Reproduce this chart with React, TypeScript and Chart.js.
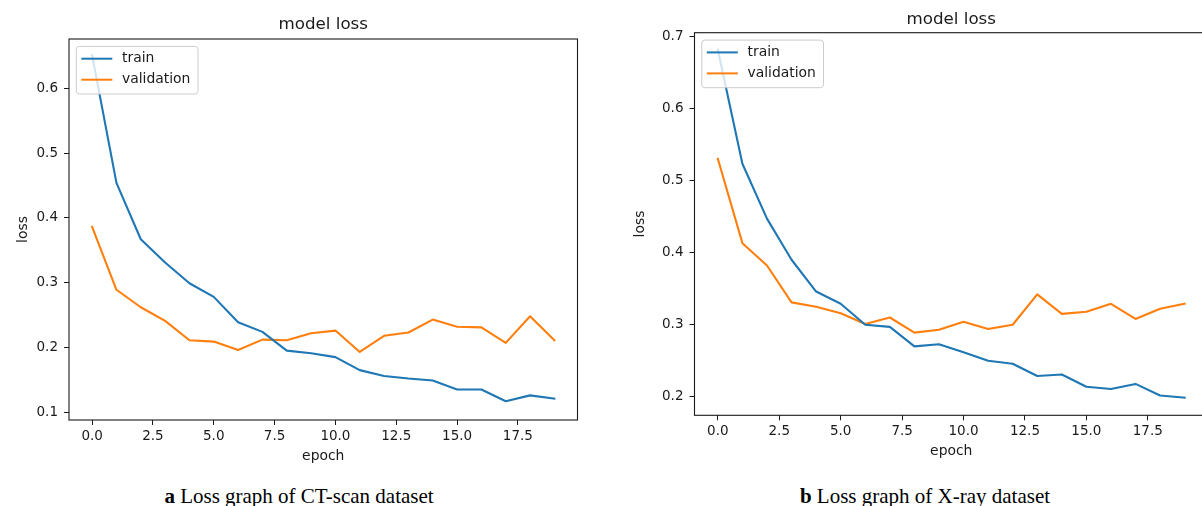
import React, { useEffect, useRef } from "react";
import { Chart, registerables } from "chart.js";

Chart.register(...registerables);

// ---- data -------------------------------------------------------------
const EPOCHS = [0, 1, 2, 3, 4, 5, 6, 7, 8, 9, 10, 11, 12, 13, 14, 15, 16, 17, 18, 19];
const X_TICKS = [0, 2.5, 5, 7.5, 10, 12.5, 15, 17.5];
const SERIES_LABELS = ["train", "validation"];
const SERIES_COLORS = ["#1f77b4", "#ff7f0e"];
const PLOT_TITLE = "model loss";
const X_TITLE = "epoch";
const Y_TITLE = "loss";

const CT_TRAIN = [0.651, 0.454, 0.367, 0.331, 0.299, 0.278, 0.239, 0.224, 0.195, 0.191, 0.185, 0.165, 0.156, 0.152, 0.149, 0.135, 0.135, 0.117, 0.126, 0.121];
const CT_VALIDATION = [0.386, 0.289, 0.262, 0.241, 0.211, 0.209, 0.196, 0.212, 0.211, 0.222, 0.226, 0.193, 0.218, 0.223, 0.243, 0.232, 0.231, 0.207, 0.248, 0.211];
const CT_Y_TICKS = [0.1, 0.2, 0.3, 0.4, 0.5, 0.6];

const XRAY_TRAIN = [0.681, 0.523, 0.447, 0.39, 0.346, 0.329, 0.3, 0.297, 0.27, 0.273, 0.262, 0.25, 0.246, 0.229, 0.231, 0.214, 0.211, 0.218, 0.202, 0.199];
const XRAY_VALIDATION = [0.53, 0.413, 0.382, 0.331, 0.325, 0.316, 0.301, 0.31, 0.289, 0.293, 0.304, 0.294, 0.3, 0.342, 0.315, 0.318, 0.329, 0.308, 0.322, 0.329];
const XRAY_Y_TICKS = [0.2, 0.3, 0.4, 0.5, 0.6, 0.7];

// ---- styling ----------------------------------------------------------
const FONT = '"DejaVu Sans", sans-serif';
const INK = "#1a1a1a";

type PanelLayout = {
  left: number;
  width: number;
  height: number;
  axisLeft: number; // width reserved for the y axis
  padTop: number;
  padRight: number;
  axisBottom: number; // height reserved for the x axis
  xMin: number;
  xMax: number;
  yMin: number;
  yMax: number;
  yTitlePad: number;
  xTitlePad: number;
  titleGap: number;
};

// Box around the plotting area (all four spines)
const axesFrame = {
  id: "axesFrame",
  afterDatasetsDraw(chart: any) {
    const { ctx, chartArea: a } = chart;
    ctx.save();
    ctx.strokeStyle = INK;
    ctx.lineWidth = 1.1;
    ctx.strokeRect(a.left, a.top, a.right - a.left, a.bottom - a.top);
    ctx.restore();
  },
};

// Title centred over the plotting area
const plotTitle = {
  id: "plotTitle",
  afterDraw(chart: any, _args: any, opts: any) {
    const { ctx, chartArea: a } = chart;
    ctx.save();
    ctx.font = `16.7px ${FONT}`;
    ctx.fillStyle = INK;
    ctx.textAlign = "center";
    ctx.textBaseline = "middle";
    ctx.fillText(opts.text, (a.left + a.right) / 2, a.top - opts.gap);
    ctx.restore();
  },
};

// Upper-left legend with a rounded, translucent frame
const cornerLegend = {
  id: "cornerLegend",
  afterDraw(chart: any) {
    const { ctx, chartArea: a } = chart;
    const sets = chart.data.datasets;
    ctx.save();
    ctx.font = `13.9px ${FONT}`;
    const tw = Math.max(...sets.map((d: any) => ctx.measureText(d.label).width));
    const x0 = a.left + 7.3;
    const y0 = a.top + 7.4;
    const w = 45.7 + tw + 7.6;
    const h = 47.6;
    const r = 3;
    ctx.beginPath();
    ctx.moveTo(x0 + r, y0);
    ctx.arcTo(x0 + w, y0, x0 + w, y0 + h, r);
    ctx.arcTo(x0 + w, y0 + h, x0, y0 + h, r);
    ctx.arcTo(x0, y0 + h, x0, y0, r);
    ctx.arcTo(x0, y0, x0 + w, y0, r);
    ctx.closePath();
    ctx.fillStyle = "rgba(255,255,255,0.8)";
    ctx.fill();
    ctx.strokeStyle = "#cccccc";
    ctx.lineWidth = 1;
    ctx.stroke();
    sets.forEach((d: any, i: number) => {
      const y = y0 + 12.3 + i * 21;
      ctx.beginPath();
      ctx.moveTo(x0 + 5, y);
      ctx.lineTo(x0 + 36, y);
      ctx.strokeStyle = d.borderColor;
      ctx.lineWidth = 2;
      ctx.stroke();
      ctx.fillStyle = INK;
      ctx.textAlign = "left";
      ctx.textBaseline = "middle";
      ctx.fillText(d.label, x0 + 45.7, y);
    });
    ctx.restore();
  },
};

function LossPanel(props: {
  layout: PanelLayout;
  train: number[];
  validation: number[];
  yTicks: number[];
}) {
  const ref = useRef<HTMLCanvasElement | null>(null);
  const { layout: L, train, validation, yTicks } = props;

  useEffect(() => {
    if (!ref.current) return;
    const series = [train, validation];
    const chart = new Chart(ref.current, {
      type: "line",
      data: {
        datasets: series.map((vals, i) => ({
          label: SERIES_LABELS[i],
          data: EPOCHS.map((x, j) => ({ x, y: vals[j] })),
          borderColor: SERIES_COLORS[i],
          backgroundColor: SERIES_COLORS[i],
          borderWidth: 2.1,
          borderJoinStyle: "round" as const,
          borderCapStyle: "square" as const,
          pointRadius: 0,
          tension: 0,
          fill: false,
        })),
      },
      options: {
        animation: false,
        responsive: false,
        devicePixelRatio: 1,
        events: [],
        layout: { padding: { top: L.padTop, right: L.padRight, left: 0, bottom: 0 } },
        plugins: {
          legend: { display: false },
          tooltip: { enabled: false },
          title: { display: false },
          plotTitle: { text: PLOT_TITLE, gap: L.titleGap },
        } as any,
        scales: {
          x: {
            type: "linear",
            min: L.xMin,
            max: L.xMax,
            afterBuildTicks: (s: any) => {
              s.ticks = X_TICKS.map((value) => ({ value }));
            },
            afterFit: (s: any) => {
              s.height = L.axisBottom;
            },
            ticks: {
              autoSkip: false,
              maxRotation: 0,
              padding: 3,
              color: INK,
              font: { family: FONT, size: 13.5 },
              callback: (v: any) => Number(v).toFixed(1),
            },
            grid: {
              display: true,
              drawOnChartArea: false,
              drawTicks: true,
              tickLength: 5,
              tickColor: INK,
              tickWidth: 1,
            },
            border: { display: false },
            title: {
              display: true,
              text: X_TITLE,
              color: INK,
              font: { family: FONT, size: 13.9 },
              padding: { top: 0, bottom: L.xTitlePad },
            },
          },
          y: {
            type: "linear",
            min: L.yMin,
            max: L.yMax,
            afterBuildTicks: (s: any) => {
              s.ticks = yTicks.map((value) => ({ value }));
            },
            afterFit: (s: any) => {
              s.width = L.axisLeft;
            },
            ticks: {
              padding: 6,
              color: INK,
              font: { family: FONT, size: 13.5 },
              callback: (v: any) => Number(v).toFixed(1),
            },
            grid: {
              display: true,
              drawOnChartArea: false,
              drawTicks: true,
              tickLength: 5,
              tickColor: INK,
              tickWidth: 1,
            },
            border: { display: false },
            title: {
              display: true,
              text: Y_TITLE,
              color: INK,
              font: { family: FONT, size: 13.9 },
              padding: { top: L.yTitlePad, bottom: 0 },
            },
          },
        },
      },
      plugins: [axesFrame, plotTitle, cornerLegend],
    });
    return () => chart.destroy();
  }, [L, train, validation, yTicks]);

  return (
    <canvas
      ref={ref}
      width={L.width}
      height={L.height}
      style={{ position: "absolute", left: L.left, top: 0, width: L.width, height: L.height }}
    />
  );
}

const CT_LAYOUT: PanelLayout = {
  left: 0,
  width: 600,
  height: 470,
  axisLeft: 69,
  padTop: 39,
  padRight: 22.5,
  axisBottom: 50,
  xMin: -0.95,
  xMax: 19.95,
  yMin: 0.088,
  yMax: 0.676,
  yTitlePad: 14.7,
  xTitlePad: 5.5,
  titleGap: 14.1,
};

const XRAY_LAYOUT: PanelLayout = {
  left: 620,
  width: 600,
  height: 465,
  axisLeft: 74.5,
  padTop: 32.7,
  padRight: 12,
  axisBottom: 49.7,
  xMin: -0.95,
  xMax: 19.95,
  yMin: 0.1745,
  yMax: 0.7046,
  yTitlePad: 12.4,
  xTitlePad: 5.5,
  titleGap: 13.5,
};

function Caption(props: { center: number; tag: string; text: string }) {
  return (
    <div
      style={{
        position: "absolute",
        left: props.center - 200,
        width: 400,
        top: 485.5,
        textAlign: "center",
        fontFamily: '"Liberation Serif", "Times New Roman", serif',
        fontSize: 21,
        lineHeight: "21px",
        color: "#000",
        whiteSpace: "nowrap",
      }}
    >
      <b>{props.tag}</b> {props.text}
    </div>
  );
}

export default function App() {
  return (
    <div
      style={{
        position: "fixed",
        left: 0,
        top: 0,
        width: 1202,
        height: 506,
        overflow: "hidden",
        background: "#fff",
      }}
    >
      <LossPanel layout={CT_LAYOUT} train={CT_TRAIN} validation={CT_VALIDATION} yTicks={CT_Y_TICKS} />
      <LossPanel layout={XRAY_LAYOUT} train={XRAY_TRAIN} validation={XRAY_VALIDATION} yTicks={XRAY_Y_TICKS} />
      <Caption center={299} tag="a" text="Loss graph of CT-scan dataset" />
      <Caption center={925} tag="b" text="Loss graph of X-ray dataset" />
    </div>
  );
}
